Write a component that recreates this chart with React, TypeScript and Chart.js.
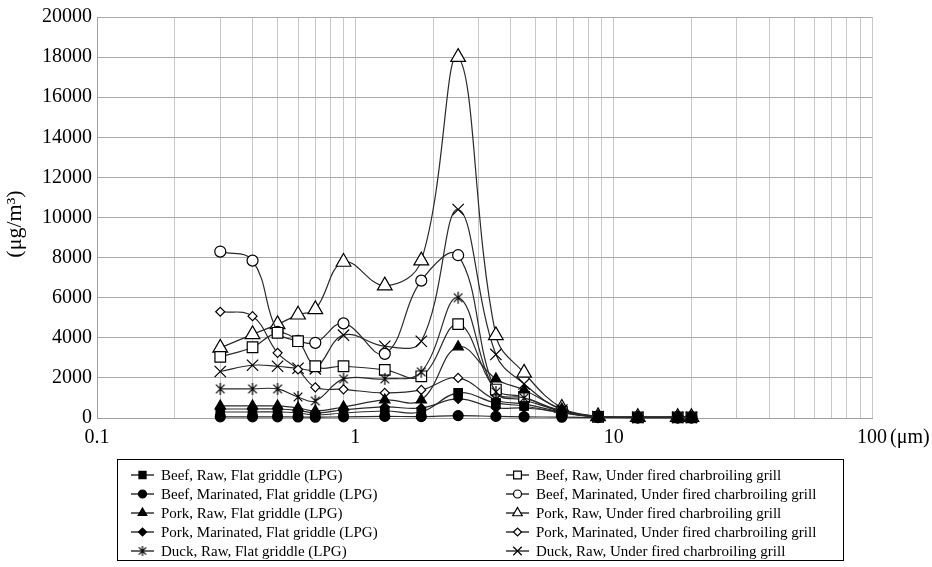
import React, { useEffect, useRef } from 'react';
import { Chart, registerables } from 'chart.js';
import { drawPoint } from 'chart.js/helpers';

Chart.register(...registerables);

// Particle size (µm)
const sizes = [0.3, 0.4, 0.5, 0.6, 0.7, 0.9, 1.3, 1.8, 2.5, 3.5, 4.5, 6.3, 8.7, 12.4, 17.7, 20];

const beefRawFG = [300, 300, 300, 250, 150, 250, 350, 300, 1250, 750, 600, 250, 60, 30, 30, 30];
const beefMarFG = [60, 60, 60, 50, 40, 60, 80, 70, 120, 80, 60, 40, 20, 10, 10, 10];
const porkRawFG = [600, 600, 600, 500, 350, 550, 900, 900, 3550, 1950, 1400, 450, 80, 40, 40, 40];
const porkMarFG = [450, 450, 450, 380, 250, 400, 550, 500, 950, 500, 500, 300, 60, 30, 30, 30];
const duckRawFG = [1450, 1450, 1450, 1050, 850, 1950, 1950, 2300, 6000, 1300, 1000, 350, 70, 30, 30, 30];
const beefRawUF = [3050, 3530, 4250, 3830, 2580, 2580, 2400, 2080, 4680, 1420, 1050, 300, 60, 30, 30, 30];
const beefMarUF = [8300, 7850, 4300, 3850, 3750, 4720, 3200, 6850, 8120, 1300, 900, 350, 70, 30, 30, 30];
const porkRawUF = [3500, 4170, 4670, 5150, 5420, 7780, 6600, 7850, 18000, 4120, 2250, 500, 80, 40, 40, 40];
const porkMarUF = [5300, 5080, 3250, 2420, 1530, 1430, 1250, 1400, 2000, 900, 700, 300, 60, 30, 30, 30];
const duckRawUF = [2320, 2630, 2580, 2480, 2450, 4130, 3580, 3830, 10400, 3170, 1700, 400, 70, 30, 30, 30];

const labels = [
  'Beef, Raw, Flat griddle (LPG)',
  'Beef, Marinated, Flat griddle (LPG)',
  'Pork, Raw, Flat griddle (LPG)',
  'Pork, Marinated, Flat griddle (LPG)',
  'Duck, Raw, Flat griddle (LPG)',
  'Beef, Raw, Under fired charbroiling grill',
  'Beef, Marinated, Under fired charbroiling grill',
  'Pork, Raw, Under fired charbroiling grill',
  'Pork, Marinated, Under fired charbroiling grill',
  'Duck, Raw, Under fired charbroiling grill',
];
const seriesValues = [beefRawFG, beefMarFG, porkRawFG, porkMarFG, duckRawFG, beefRawUF, beefMarUF, porkRawUF, porkMarUF, duckRawUF];

const xGridValues = [0.1, 0.2, 0.3, 0.4, 0.5, 0.6, 0.7, 0.8, 0.9, 1, 2, 3, 4, 5, 6, 7, 8, 9, 10, 20, 30, 40, 50, 60, 70, 80, 90, 100];
const xLabelValues = [0.1, 1, 10, 100];
const yMin = 0;
const yMax = 20000;
const yStep = 2000;

const FONT = '"Liberation Serif", "Times New Roman", serif';

function makeAsterisk(r: number) {
  const c = document.createElement('canvas');
  const s = Math.ceil(r * 2 + 4);
  c.width = s;
  c.height = s;
  const g = c.getContext('2d')!;
  g.strokeStyle = '#000';
  g.lineWidth = 1.2;
  const cx = s / 2, cy = s / 2;
  const d = r * 0.72;
  g.beginPath();
  g.moveTo(cx, cy - r); g.lineTo(cx, cy + r);
  g.moveTo(cx - d, cy - d); g.lineTo(cx + d, cy + d);
  g.moveTo(cx - d, cy + d); g.lineTo(cx + d, cy - d);
  g.stroke();
  return c;
}

export default function App() {
  const ref = useRef<HTMLCanvasElement | null>(null);

  useEffect(() => {
    document.body.style.margin = '0';
    const canvas = ref.current!;
    const star = makeAsterisk(6);
    const starSmall = makeAsterisk(5);

    const styles: any[] = [
      { pointStyle: 'rect', radius: 6, fill: '#000', legendR: 5 },
      { pointStyle: 'circle', radius: 5, fill: '#000', legendR: 4 },
      { pointStyle: 'triangle', radius: 6, fill: '#000', legendR: 5 },
      { pointStyle: 'rectRot', radius: 4.5, fill: '#000', legendR: 4 },
      { pointStyle: star, radius: 6, fill: '#000', legend: starSmall, legendR: 5 },
      { pointStyle: 'rect', radius: 7.5, fill: '#fff', legendR: 5.5 },
      { pointStyle: 'circle', radius: 5.5, fill: '#fff', legendR: 4 },
      { pointStyle: 'triangle', radius: 8.5, fill: '#fff', legendR: 5.5 },
      { pointStyle: 'rectRot', radius: 4.5, fill: '#fff', legendR: 4 },
      { pointStyle: 'crossRot', radius: 8, fill: '#fff', legendR: 6 },
    ];

    const datasets = seriesValues.map((vals, i) => ({
      label: labels[i],
      data: sizes.map((x, j) => ({ x, y: vals[j] })),
      borderColor: '#2a2a2a',
      borderWidth: 1.2,
      tension: 0.4,
      pointStyle: styles[i].pointStyle,
      pointRadius: styles[i].radius,
      pointBackgroundColor: styles[i].fill,
      pointBorderColor: '#000',
      pointBorderWidth: 1.2,
      clip: false as any,
    }));

    const extraPlugin = {
      id: 'extras',
      afterDraw(chart: any) {
        const ctx = chart.ctx;
        ctx.save();
        // y-axis title
        ctx.fillStyle = '#000';
        ctx.font = `22px ${FONT}`;
        ctx.translate(15, 224);
        ctx.rotate(-Math.PI / 2);
        ctx.textAlign = 'center';
        ctx.textBaseline = 'middle';
        ctx.fillText('(μg/m³)', 0, 0);
        ctx.restore();

        // unit after last x label
        ctx.save();
        ctx.fillStyle = '#000';
        ctx.font = `20px ${FONT}`;
        ctx.textAlign = 'left';
        ctx.textBaseline = 'middle';
        const px = chart.scales.x.getPixelForValue(100);
        ctx.fillText('(μm)', px + 18, 438);
        ctx.restore();

        // legend
        ctx.save();
        ctx.strokeStyle = '#000';
        ctx.lineWidth = 1;
        ctx.strokeRect(117.5, 459.5, 726, 101);
        ctx.font = `15px ${FONT}`;
        ctx.textBaseline = 'middle';
        ctx.textAlign = 'left';
        chart.data.datasets.forEach((ds: any, i: number) => {
          const col = i < 5 ? 0 : 1;
          const row = i % 5;
          const x0 = col === 0 ? 131 : 506;
          const y = 475 + row * 19;
          ctx.strokeStyle = '#000';
          ctx.lineWidth = 1.2;
          ctx.beginPath();
          ctx.moveTo(x0, y);
          ctx.lineTo(x0 + 23, y);
          ctx.stroke();
          ctx.fillStyle = styles[i].fill;
          ctx.strokeStyle = '#000';
          drawPoint(ctx, {
            pointStyle: styles[i].legend || styles[i].pointStyle,
            radius: styles[i].legendR,
            borderWidth: 1.2,
            rotation: 0,
          } as any, x0 + 11.5, y);
          ctx.fillStyle = '#000';
          ctx.fillText(ds.label, x0 + 30, y + 1);
        });
        ctx.restore();
      },
    };

    const chart = new Chart(canvas, {
      type: 'line',
      data: { datasets: datasets as any },
      plugins: [extraPlugin],
      options: {
        animation: false,
        responsive: false,
        layout: { padding: { left: 0, top: 17, right: 60, bottom: 0 } },
        plugins: { legend: { display: false }, tooltip: { enabled: false } },
        scales: {
          x: {
            type: 'logarithmic',
            min: 0.1,
            max: 100,
            afterBuildTicks: (scale: any) => {
              scale.ticks = xGridValues.map((v) => ({ value: v, major: xLabelValues.includes(v) }));
            },
            afterFit: (scale: any) => {
              scale.height = 567 - 418;
            },
            grid: { color: '#c8c8c8', lineWidth: 1, drawTicks: false },
            border: { display: true, color: '#a0a0a0' },
            ticks: {
              autoSkip: false,
              maxRotation: 0,
              padding: 8,
              color: '#000',
              font: { family: FONT, size: 20 },
              callback: (v: any) => (xLabelValues.includes(Number(v)) ? String(v) : ''),
            },
          },
          y: {
            min: yMin,
            max: yMax,
            afterFit: (scale: any) => {
              scale.width = 97;
            },
            grid: { color: '#a8a8a8', lineWidth: 1, drawTicks: false },
            border: { display: true, color: '#a0a0a0' },
            ticks: {
              stepSize: yStep,
              padding: 5,
              color: '#000',
              font: { family: FONT, size: 20 },
              callback: (v: any) => String(v),
            },
          },
        },
      },
    });
    return () => chart.destroy();
  }, []);

  return <canvas ref={ref} width={932} height={567} style={{ display: 'block' }} />;
}
